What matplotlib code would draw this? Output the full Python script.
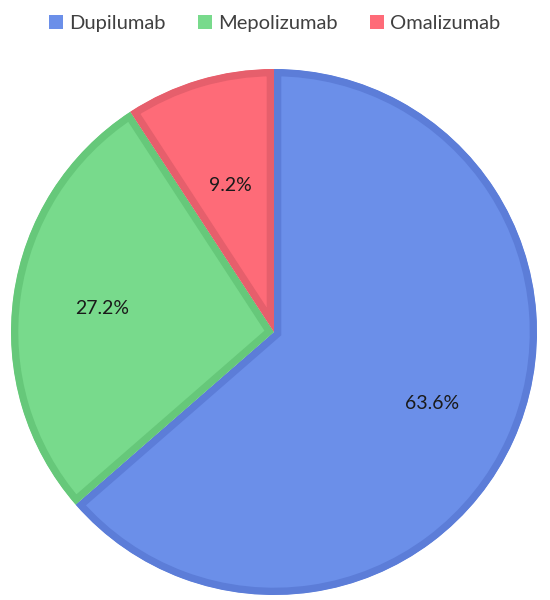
import matplotlib.pyplot as plt
from matplotlib.patches import Patch
import numpy as np

drugs = ['Dupilumab', 'Mepolizumab', 'Omalizumab']
shares = [63.6, 27.2, 9.2]
fill_colors = ['#6B8FE9', '#78DA8C', '#FE6B78']
edge_colors = ['#5C7DD8', '#66C87A', '#E65F6C']

plt.rcParams['font.family'] = ['Lato', 'DejaVu Sans']

fig = plt.figure(figsize=(5.5, 6), dpi=100)
ax = fig.add_axes([11 / 550, 5 / 600, 526 / 550, 526 / 600])

wedges, texts, autotexts = ax.pie(
    shares, colors=fill_colors, startangle=90, counterclock=False,
    autopct='%1.1f%%', pctdistance=0.66, radius=1,
    textprops={'fontsize': 14, 'color': '#1a1a1a'})

# darker inner stroke on each slice (clip the stroke to the slice itself)
for w, ec in zip(wedges, edge_colors):
    w.set_edgecolor(ec)
    w.set_linewidth(10.5)
    w.set_joinstyle('miter')
    w.set_clip_on(True)  # pie turns clipping off
    w.set_clip_path(w.get_path(), w.get_transform())

# small slice label sits a bit closer to the centre
w = wedges[2]
ang = np.deg2rad((w.theta1 + w.theta2) / 2)
autotexts[2].set_position((0.58 * np.cos(ang), 0.58 * np.sin(ang)))

ax.set_xlim(-1, 1)
ax.set_ylim(-1, 1)
ax.set_aspect('equal')
ax.axis('off')

handles = [Patch(facecolor=c, edgecolor='none') for c in fill_colors]
fig.legend(handles, drugs, loc='upper center', bbox_to_anchor=(0.5, 1.005),
           ncol=3, frameon=False, fontsize=14.5, handlelength=0.7, handleheight=0.7,
           handletextpad=0.3, columnspacing=1.6, labelcolor='#404040')

fig.savefig('out.png', dpi=100)
